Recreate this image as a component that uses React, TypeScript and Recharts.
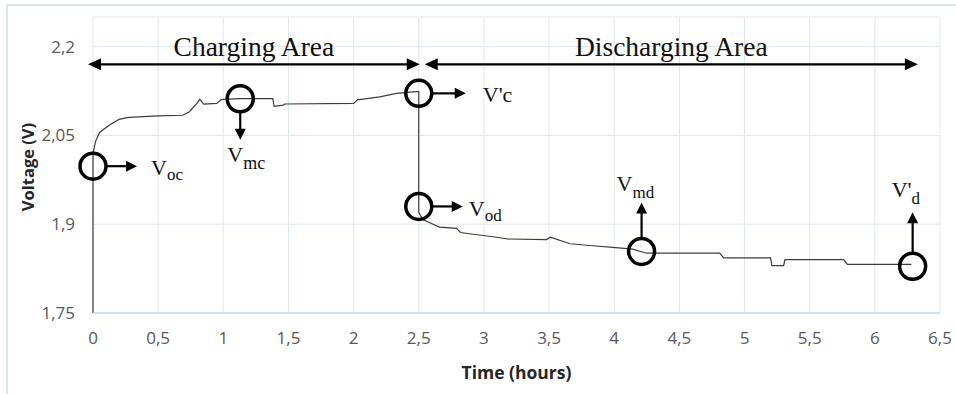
import React from 'react';
import { LineChart, Line, XAxis, YAxis, CartesianGrid, ReferenceDot, ReferenceLine, Label } from 'recharts';

// Measured battery voltage over time (charging then discharging)
const timeHours = [
  0, 0, 0.02, 0.05, 0.08, 0.13, 0.2, 0.26, 0.31, 0.5, 0.69, 0.74, 0.8, 0.82, 0.85, 0.95, 0.98, 1.0, 1.13,
  1.38, 1.39, 1.46, 1.47, 2.0, 2.03, 2.2, 2.33, 2.48, 2.5,
  2.5, 2.53, 2.61, 2.66, 2.79, 2.82, 2.92, 3.1, 3.18, 3.48, 3.51, 3.66, 3.81, 3.99, 4.14, 4.25, 4.81, 4.84,
  5.2, 5.21, 5.3, 5.31, 5.76, 5.79, 6.28,
];
const voltage = [
  1.75, 2.02, 2.04, 2.055, 2.06, 2.068, 2.077, 2.08, 2.081, 2.083, 2.084, 2.09, 2.105, 2.111, 2.103, 2.104, 2.11, 2.111, 2.112,
  2.112, 2.099, 2.101, 2.103, 2.104, 2.11, 2.115, 2.121, 2.124, 2.124,
  1.92, 1.908, 1.9, 1.895, 1.893, 1.886, 1.883, 1.878, 1.875, 1.874, 1.878, 1.867, 1.864, 1.861, 1.858, 1.851, 1.851, 1.843,
  1.843, 1.83, 1.83, 1.84, 1.84, 1.832, 1.832,
];

const xTicks = [0, 0.5, 1, 1.5, 2, 2.5, 3, 3.5, 4, 4.5, 5, 5.5, 6, 6.5];
const yTicks = [1.75, 1.9, 2.05, 2.2];

const markerNames = ['Voc', 'Vmc', "V'c", 'Vod', 'Vmd', "V'd"];
const markerTimes = [0, 1.13, 2.5, 2.5, 4.21, 6.29];
const markerVolts = [1.998, 2.112, 2.121, 1.93, 1.854, 1.829];

const areaNames = ['Charging Area', 'Discharging Area'];
const areaStart = [0, 2.5];
const areaEnd = [2.5, 6.33];
const areaLevel = 2.17;

const data = timeHours.map((t, i) => ({ t, v: voltage[i] }));

const fmt = (v: number) => String(v).replace('.', ',');

const SERIF = '"Liberation Serif", "Times New Roman", serif';
const SANS = '"Open Sans", "Noto Sans", sans-serif';

type MarkStyle = { dir: 'right' | 'down' | 'up'; len: number; tx: number; ty: number; main: string; sub: string; subDy: number; subSize: number };
const markStyles: Record<string, MarkStyle> = {
  Voc: { dir: 'right', len: 44, tx: 58, ty: 9, main: 'V', sub: 'oc', subDy: 5, subSize: 17 },
  Vmc: { dir: 'down', len: 41, tx: -13, ty: 63, main: 'V', sub: 'mc', subDy: 7, subSize: 18 },
  "V'c": { dir: 'right', len: 47, tx: 64, ty: 9, main: "V'c", sub: '', subDy: 0, subSize: 17 },
  Vod: { dir: 'right', len: 44, tx: 50, ty: 10, main: 'V', sub: 'od', subDy: 5, subSize: 17 },
  Vmd: { dir: 'up', len: 49, tx: -25, ty: -60, main: 'V', sub: 'md', subDy: 7, subSize: 17 },
  "V'd": { dir: 'up', len: 54, tx: -21, ty: -69, main: "V'", sub: 'd', subDy: 7, subSize: 17 },
};

function arrowHead(tx: number, ty: number, dx: number, dy: number, size = 11, half = 5.5) {
  const bx = tx - dx * size;
  const by = ty - dy * size;
  const px = -dy * half;
  const py = dx * half;
  return `${tx},${ty} ${bx + px},${by + py} ${bx - px},${by - py}`;
}

const Marker = (props: any) => {
  const { cx, cy, name } = props;
  const s = markStyles[name];
  const r = 13;
  let dx = 0, dy = 0;
  if (s.dir === 'right') dx = 1;
  if (s.dir === 'down') dy = 1;
  if (s.dir === 'up') dy = -1;
  const sx = cx + dx * r;
  const sy = cy + dy * r;
  const ex = cx + dx * s.len;
  const ey = cy + dy * s.len;
  const lx = ex - dx * 9;
  const ly = ey - dy * 9;
  return (
    <g>
      <circle cx={cx} cy={cy} r={r} fill="none" stroke="#000" strokeWidth={3.5} />
      <line x1={sx} y1={sy} x2={lx} y2={ly} stroke="#000" strokeWidth={2.2} />
      <polygon points={arrowHead(ex, ey, dx, dy)} fill="#000" />
      <text x={cx + s.tx} y={cy + s.ty} fontFamily={SERIF} fontSize={22} fill="#111">
        {s.main}
        {s.sub ? (
          <tspan fontSize={s.subSize} dy={s.subDy}>{s.sub}</tspan>
        ) : null}
      </text>
    </g>
  );
};

const AreaArrow = (props: any) => {
  const { x1, y1, x2, name, left, right } = props;
  const a = x1 + left;
  const b = x2 + right;
  const y = y1;
  return (
    <g>
      <line x1={a + 8} y1={y} x2={b - 8} y2={y} stroke="#000" strokeWidth={2.4} />
      <polygon points={arrowHead(a, y, -1, 0, 13, 6)} fill="#000" />
      <polygon points={arrowHead(b, y, 1, 0, 13, 6)} fill="#000" />
      <text x={(a + b) / 2} y={y - 8} textAnchor="middle" fontFamily={SERIF} fontSize={27.5} fill="#111">
        {name}
      </text>
    </g>
  );
};

export default function App() {
  return (
    <div style={{ position: 'absolute', left: 0, top: 0, width: 956, height: 394, background: '#fff', overflow: 'hidden' }}>
      <div
        style={{
          position: 'absolute',
          left: 6,
          top: 4,
          width: 960,
          height: 400,
          borderTop: '2px solid #dde5f0',
          borderLeft: '2px solid #dde5f0',
          boxSizing: 'border-box',
        }}
      />
      <div style={{ position: 'absolute', left: 0, top: 0 }}>
        <LineChart width={956} height={394} data={data} margin={{ top: 17, right: 16, bottom: 6, left: 8 }}>
          <CartesianGrid stroke="#dfe6f0" strokeWidth={1} />
          <XAxis
            dataKey="t"
            type="number"
            domain={[0, 6.5]}
            ticks={xTicks}
            tickFormatter={fmt}
            axisLine={{ stroke: '#c9d6e8', strokeWidth: 1.5 }}
            tickLine={false}
            tickSize={0}
            tickMargin={19}
            height={75}
            tick={{ fill: '#595959', fontSize: 17, fontFamily: SANS }}
          >
            <Label
              value="Time (hours)"
              position="insideBottom"
              offset={9}
              style={{ fontFamily: SANS, fontWeight: 700, fontSize: 17.5, fill: '#262626' }}
            />
          </XAxis>
          <YAxis
            type="number"
            domain={[1.75, 2.25]}
            ticks={yTicks}
            tickFormatter={fmt}
            axisLine={false}
            tickLine={false}
            tickSize={0}
            tickMargin={18}
            width={85}
            tick={{ fill: '#595959', fontSize: 17, fontFamily: SANS }}
            label={{
              content: (p: any) => {
                const vb = p.viewBox || { x: 8, y: 17, width: 85, height: 297 };
                const x = vb.x + 19;
                const y = vb.y + vb.height / 2 + 2;
                return (
                  <text
                    x={x}
                    y={y}
                    transform={`rotate(-90 ${x} ${y})`}
                    textAnchor="middle"
                    dominantBaseline="central"
                    fontFamily={SANS}
                    fontWeight={700}
                    fontSize={16.5}
                    fill="#262626"
                  >
                    Voltage (V)
                  </text>
                );
              },
            }}
          />
          <Line
            dataKey="v"
            type="linear"
            stroke="#3c3c3c"
            strokeWidth={1.2}
            dot={false}
            activeDot={false}
            isAnimationActive={false}
          />
          {areaNames.map((n, i) => (
            <ReferenceLine
              key={n}
              segment={[
                { x: areaStart[i], y: areaLevel },
                { x: areaEnd[i], y: areaLevel },
              ]}
              shape={(p: any) => <AreaArrow {...p} name={n} left={i === 0 ? -5 : 6} right={i === 0 ? 1 : 0} />}
            />
          ))}
          {markerNames.map((n, i) => (
            <ReferenceDot
              key={n}
              x={markerTimes[i]}
              y={markerVolts[i]}
              r={13}
              shape={(p: any) => <Marker {...p} name={n} />}
            />
          ))}
        </LineChart>
      </div>
    </div>
  );
}
